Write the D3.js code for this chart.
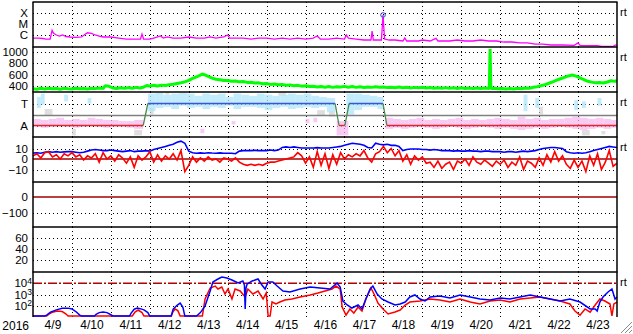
<!DOCTYPE html>
<html><head><meta charset="utf-8">
<script src="https://cdn.jsdelivr.net/npm/d3@7"></script>
<style>
html,body{margin:0;padding:0;background:#fff;overflow:hidden;}
svg{display:block;}
text{font-family:"Liberation Sans",Arial,Helvetica,sans-serif;fill:#000;}
</style></head><body>
<svg id="chart" width="633" height="334"></svg>
<script>
// ---------------- DATA ----------------
const yearLabel = "2016";
const dayLabels = ["4/9","4/10","4/11","4/12","4/13","4/14","4/15","4/16","4/17","4/18","4/19","4/20","4/21","4/22","4/23"];

// GOES X-ray flux [day since 4/9 00UT, W/m2]
const xrayTicks = [1e-4, 1e-5, 1e-6];
const xrayTickLabels = ["X", "M", "C"];
const xrayFlux = [[0,5.3e-7],[0.15,5.3e-7],[0.25,4.8e-7],[0.33,4.3e-7],[0.44,4.3e-7],[0.49,2.6e-6],[0.53,1.4e-6],[0.6,1.0e-6],[0.68,8.1e-7],[0.76,1.0e-6],[0.85,7.3e-7],[0.95,6.6e-7],[1.1,6.0e-7],[1.25,6.6e-7],[1.33,1.1e-6],[1.4,1.6e-6],[1.5,1.4e-6],[1.6,1.0e-6],[1.7,8.1e-7],[1.8,6.6e-7],[2.0,6.6e-7],[2.2,5.3e-7],[2.4,4.3e-7],[2.6,4.3e-7],[2.76,4.3e-7],[2.8,1.2e-6],[2.84,4.3e-7],[3.0,4.3e-7],[3.1,5.3e-7],[3.2,6.6e-7],[3.27,8.1e-7],[3.35,5.3e-7],[3.45,6.6e-7],[3.6,5.3e-7],[3.8,5.3e-7],[4.0,6.6e-7],[4.2,5.3e-7],[4.4,5.3e-7],[4.55,6.6e-7],[4.7,5.3e-7],[4.9,6.6e-7],[5.0,1.0e-6],[5.05,5.3e-7],[5.2,5.3e-7],[5.4,5.3e-7],[5.6,4.3e-7],[5.8,5.3e-7],[6.0,5.3e-7],[6.2,4.3e-7],[6.4,5.3e-7],[6.6,4.3e-7],[6.8,5.3e-7],[7.0,4.3e-7],[7.2,5.3e-7],[7.3,8.1e-7],[7.38,4.3e-7],[7.6,4.3e-7],[7.8,5.3e-7],[8.0,4.3e-7],[8.05,1.0e-6],[8.1,5.3e-7],[8.3,4.3e-7],[8.5,3.5e-7],[8.68,3.5e-7],[8.71,2.3e-6],[8.74,3.5e-7],[8.95,3.5e-7],[8.99,6.6e-5],[9.03,4.3e-7],[9.15,3.5e-7],[9.3,3.5e-7],[9.5,2.85e-7],[9.55,5.3e-7],[9.6,2.85e-7],[9.9,2.85e-7],[10.0,3.5e-7],[10.2,2.85e-7],[10.35,5e-7],[10.4,2.85e-7],[10.7,2.85e-7],[10.9,3.5e-7],[11.1,2.85e-7],[11.3,2.85e-7],[11.5,3.5e-7],[11.7,2.85e-7],[11.9,2.85e-7],[12.1,2.3e-7],[12.3,2.3e-7],[12.5,1.9e-7],[12.7,1.9e-7],[12.9,1.5e-7],[13.1,1.5e-7],[13.3,1.23e-7],[13.6,1.23e-7],[13.9,1.15e-7],[14.0,1.9e-7],[14.05,1.15e-7],[14.3,1.1e-7],[14.5,1.1e-7],[14.6,9e-8],[14.9,9e-8],[14.95,1.2e-7],[15,1.2e-7]];
const xrayPeak = [[8.99, 6.6e-5]];

// Solar wind speed [day, km/s]
const swTicks = [400, 600, 800, 1000];
const swSpeed = [[0,350],[0.1,340],[0.2,356],[0.3,344],[0.4,358],[0.5,346],[0.6,352],[0.7,340],[0.8,356],[0.9,348],[1.0,344],[1.1,358],[1.2,346],[1.3,354],[1.4,342],[1.5,356],[1.6,350],[1.7,362],[1.8,352],[1.85,400],[1.95,392],[2.05,362],[2.15,352],[2.25,366],[2.35,356],[2.45,368],[2.55,358],[2.65,372],[2.75,362],[2.85,378],[2.92,405],[3.0,398],[3.1,410],[3.2,396],[3.3,412],[3.4,404],[3.5,420],[3.6,428],[3.7,442],[3.8,455],[3.9,470],[4.0,495],[4.1,530],[4.2,560],[4.3,590],[4.35,610],[4.4,598],[4.5,565],[4.6,535],[4.7,515],[4.8,508],[4.9,495],[5.0,492],[5.1,480],[5.2,486],[5.3,470],[5.4,476],[5.5,460],[5.6,462],[5.7,448],[5.8,452],[5.9,436],[6.0,440],[6.1,425],[6.2,432],[6.3,418],[6.4,424],[6.5,410],[6.6,416],[6.7,402],[6.8,408],[6.9,394],[7.0,400],[7.1,386],[7.2,392],[7.3,380],[7.4,388],[7.5,376],[7.6,386],[7.7,372],[7.8,382],[7.9,378],[8.0,390],[8.1,376],[8.2,386],[8.3,372],[8.4,382],[8.5,370],[8.6,380],[8.7,372],[8.8,384],[8.9,374],[9.0,380],[9.1,368],[9.2,376],[9.3,366],[9.4,378],[9.5,366],[9.6,374],[9.7,362],[9.8,372],[9.9,364],[10.0,374],[10.1,360],[10.2,370],[10.3,358],[10.4,366],[10.5,356],[10.6,368],[10.7,356],[10.8,364],[10.9,354],[11.0,364],[11.1,352],[11.2,362],[11.3,350],[11.4,360],[11.5,352],[11.6,360],[11.72,352],[11.74,1050],[11.76,350],[11.85,358],[11.95,346],[12.05,354],[12.15,342],[12.25,352],[12.35,344],[12.45,356],[12.55,348],[12.65,362],[12.75,358],[12.85,374],[12.95,385],[13.05,400],[13.15,420],[13.25,445],[13.35,470],[13.45,500],[13.55,525],[13.65,550],[13.75,575],[13.85,590],[13.95,572],[14.05,540],[14.15,510],[14.25,480],[14.35,465],[14.45,452],[14.55,460],[14.65,450],[14.75,468],[14.85,490],[14.95,478],[15,500]];

// Solar wind type (A = 1, T = 3)
const taTicks = [3, 1];
const taTickLabels = ["T", "A"];
const taBoundary = 2;
const taType = [[0,1],[2.83,1],[2.95,3],[7.76,3],[7.86,1],[8.01,1],[8.12,3],[8.99,3],[9.09,1],[15,1]];
// scatter ranges [t0, t1, low, high]
const taLightBlue = [[0.1,0.2,2.6,3.6],[0.2,0.3,2.9,3.9],[0.8,0.9,3.2,3.8],[1.4,1.5,3.0,3.5],[2.95,3.15,2.3,3.9],[3.15,3.35,2.6,3.95],[3.35,3.55,2.7,3.8],[3.55,3.75,2.5,3.9],[3.75,3.95,2.8,3.95],[3.95,4.15,2.6,3.9],[4.15,4.35,2.7,3.7],[4.35,4.55,2.5,3.9],[4.55,4.75,2.7,3.8],[4.75,4.95,2.6,3.9],[4.95,5.15,2.8,3.6],[5.15,5.35,2.5,3.9],[5.35,5.55,2.7,3.8],[5.55,5.75,2.7,3.7],[5.75,5.95,2.6,3.9],[5.95,6.15,2.4,3.8],[6.15,6.35,2.6,3.7],[6.35,6.55,2.7,3.8],[6.55,6.75,2.5,3.9],[6.75,6.95,2.6,3.8],[6.95,7.15,2.7,3.9],[7.15,7.35,2.6,3.7],[7.35,7.55,2.7,3.6],[7.55,7.76,2.2,3.5],[8.05,8.25,2.0,3.9],[8.25,8.45,2.4,3.9],[8.45,8.65,2.7,3.8],[8.65,8.85,2.7,3.7],[8.85,9.0,2.5,3.6],[12.6,12.7,2.3,3.8],[12.9,13.0,2.6,3.5],[13.9,14.0,2.4,3.3],[14.1,14.2,2.6,3.2],[14.5,14.6,2.8,3.5]];
const taPink = [[0,0.2,0.9,1.6],[0.2,0.4,0.8,1.5],[0.4,0.6,0.9,1.6],[0.6,0.8,1.0,1.7],[0.8,1.0,0.9,1.5],[1.0,1.2,0.8,1.6],[1.2,1.4,0.9,1.5],[1.4,1.6,1.0,1.7],[1.6,1.8,0.9,1.6],[1.8,2.0,0.8,1.5],[2.0,2.2,0.9,1.5],[2.2,2.4,0.9,1.4],[2.4,2.6,0.8,1.4],[2.6,2.83,0.7,1.5],[4.3,4.4,0.3,0.7],[5.1,5.2,1.1,1.4],[7.0,7.1,1.2,1.6],[7.2,7.3,1.3,1.7],[7.8,8.1,0.1,1.4],[9.05,9.25,0.7,1.7],[9.25,9.45,0.8,1.6],[9.45,9.65,0.7,1.5],[9.65,9.85,0.8,1.6],[9.85,10.05,0.9,1.7],[10.05,10.25,0.8,1.5],[10.25,10.45,0.7,1.6],[10.45,10.65,0.8,1.5],[10.65,10.85,0.9,1.6],[10.85,11.05,0.8,1.7],[11.05,11.25,0.7,1.5],[11.25,11.45,0.8,1.6],[11.45,11.65,0.9,1.5],[11.65,11.85,0.8,1.6],[11.85,12.05,0.7,1.7],[12.05,12.25,0.8,1.6],[12.25,12.45,0.7,1.5],[12.45,12.65,0.6,1.8],[12.65,12.85,0.7,1.6],[12.85,13.05,0.8,1.7],[13.05,13.25,0.7,1.5],[13.25,13.45,0.8,1.6],[13.45,13.65,0.9,1.6],[13.65,13.85,0.8,1.7],[13.85,14.05,0.7,1.8],[14.05,14.25,0.6,1.7],[14.25,14.45,0.7,1.6],[14.45,14.65,0.8,1.7],[14.65,14.85,0.7,1.6],[14.85,15,0.8,1.5]];
const taGray = [[0.3,0.5,1.9,2.5],[1.0,1.1,0.1,0.7],[2.6,2.8,0.1,0.6],[3.0,3.1,2.0,2.6],[3.4,3.5,3.8,4.0],[6.3,6.5,3.7,4.0],[7.3,7.5,1.9,2.4],[7.6,7.75,1.8,2.3],[13.0,13.1,2.0,2.7],[14.1,14.3,0.1,0.6],[14.6,14.7,0.2,0.5]];

// IMF (nT), sampled every 0.1 day
const imfStepDays = 0.1;
const imfTicks = [10, 0, -10];
const btValues = [5.7,6,5.5,6.5,7,6.5,7,6.5,6.8,7, 7,6.5,6,6.5,7.5,8.5,9,8.5,8,8, 8.5,8,7.5,7,7.5,8,7,7.5,7.5,8, 7.5,9,10,11,12,13,14,16,17,15, 7.5,6,5.5,5.8,5.5,6,5.7,5.5,5.8,5.5, 5.5,5.5,5,7.5,8,8,8,8.2,8,8, 8,8.5,8,8.5,11,11.5,11,11.5,11,10.5, 10.5,10.5,10.5,10.8,10.5,10.5,10.5,11,11.5,12, 13,14,15,14.5,14,13,11,10.5,15,14, 13.5,14,13,13,12,8,9,9.5,9.5,9.5, 9,9,8.5,9,8.5,8,8,8,7.5,8, 7.5,7.5,8,7.5,7.5,7,7.5,7.5,7,7, 7,6.5,7,7,6.5,7,7.5,7,7.5,8, 9,10,10.5,11,11,10.5,10,7,6,5.5, 6,5.5,6,7,8,9,10,11,12,11.5, 11];
const bzValues = [3,5,1,6,7,2,4,0,5,3, 6,2,4,-1,3,1,5,-3,6,0, 3,-2,4,1,-4,2,-8,3,-1,2, 7,-3,4,-2,3,0,5,-1,8,-12, -6,2,-3,1,-2,2,-1,0,-3,1, 0,-2,1,-3,-5,-6,-5,-6,-5,-6, -4,-3,-3,-2,-1,0,1,2,6,3, -4,2,-8,7,-6,5,-9,4,-5,6, 0,4,2,5,3,8,1,-3,5,7, 12,6,10,3,8,-2,4,-5,3,-1, 2,-4,-3,-8,-2,-9,-5,-3,-10,-2, -4,0,-6,2,-3,-5,-1,-4,-7,-2, -5,-1,-8,-3,-6,2,-10,-2,-4,-8, 1,-6,4,-3,7,-2,3,-5,-9,-1, -8,-2,-12,3,-6,5,-10,-3,8,-7, -4];

// Dst / Kp-like panels
const dstTicks = [0, -100];
const p6Ticks = [20, 40, 60];

// Proton flux [day, value]
const protonTicks = [1e4, 1e3, 1e2];
const protonExp = ["4", "3", "2"];
const protonThreshold = 1e4;
const protonBlue = [[0,8],[0.3,8],[0.35,12],[0.45,22],[0.6,35],[0.75,48],[0.9,50],[1.0,42],[1.1,25],[1.2,12],[1.25,8],[1.58,8],[1.62,14],[1.7,20],[1.8,23],[1.9,20],[2.0,13],[2.05,8],[2.48,8],[2.52,18],[2.6,40],[2.68,50],[2.75,45],[2.85,35],[2.95,20],[3.0,8],[3.55,8],[3.6,40],[3.7,90],[3.78,140],[3.85,60],[3.9,8],[4.2,8],[4.3,20],[4.42,77],[4.55,1670],[4.62,10500],[4.75,19500],[4.85,29000],[4.98,24000],[5.11,16000],[5.27,8500],[5.39,13000],[5.43,5600],[5.45,42],[5.47,3000],[5.5,7000],[5.63,13000],[5.78,19500],[5.88,5600],[5.96,2500],[6.04,10500],[6.16,10500],[6.27,4600],[6.42,1670],[6.6,1360],[6.86,2500],[7.12,3800],[7.37,3100],[7.63,2500],[7.81,8500],[7.89,3800],[7.96,215],[8.07,95],[8.19,51],[8.35,95],[8.45,42],[8.55,326],[8.66,2500],[8.73,4600],[8.84,900],[8.96,326],[9.12,175],[9.3,95],[9.43,117],[9.56,175],[9.68,490],[9.81,740],[9.94,326],[10.07,215],[10.2,490],[10.45,600],[10.71,400],[10.97,740],[11.23,490],[11.48,326],[11.74,264],[12.0,400],[12.25,326],[12.51,490],[12.77,740],[13.02,490],[13.28,326],[13.54,215],[13.79,326],[14.05,175],[14.31,42],[14.44,42],[14.49,28],[14.56,175],[14.64,490],[14.77,1360],[14.87,2500],[14.95,326],[15,490]];
const protonRed = [[0,8],[0.35,8],[0.4,14],[0.5,22],[0.62,28],[0.75,25],[0.85,15],[0.9,8],[2.55,8],[2.62,22],[2.7,34],[2.8,20],[2.85,8],[3.55,8],[3.6,25],[3.65,42],[3.72,30],[3.78,8],[4.35,8],[4.42,326],[4.55,3100],[4.68,4600],[4.75,2500],[4.85,3800],[4.93,900],[5.01,2500],[5.11,326],[5.19,2500],[5.32,1670],[5.45,490],[5.52,2500],[5.65,900],[5.78,1670],[5.91,326],[5.99,1110],[6.04,8],[6.09,8],[6.14,175],[6.24,117],[6.34,175],[6.47,264],[6.65,326],[6.86,490],[7.12,740],[7.32,1110],[7.5,1670],[7.68,2500],[7.78,4600],[7.89,2500],[7.94,63],[8.04,12],[8.14,42],[8.24,18],[8.35,63],[8.45,28],[8.55,326],[8.68,3100],[8.76,900],[8.86,143],[8.99,42],[9.12,15],[9.3,23],[9.43,34],[9.56,95],[9.68,175],[9.94,215],[10.2,326],[10.45,264],[10.71,175],[10.97,326],[11.23,175],[11.48,117],[11.74,215],[12.0,264],[12.25,175],[12.51,326],[12.77,400],[13.02,490],[13.28,326],[13.54,215],[13.79,117],[13.92,28],[14.05,12],[14.18,42],[14.31,22],[14.44,95],[14.56,326],[14.69,215],[14.82,117],[14.87,8],[14.92,117],[15,175]];

// ---------------- LAYOUT ----------------
const W = 633, H = 334, L = 33, R = 617;
const tops = [2, 47, 92, 137, 182, 227, 272];
const bots = [47, 92, 137, 182, 227, 272, 317];
const nDays = dayLabels.length;

const svg = d3.select("#chart");
const x = d3.scaleLinear().domain([0, nDays]).range([L, R]);

const yX = d3.scaleLog().domain([1e-7, 1e-3]).range([46, 2]);
const ySW = d3.scaleLinear().domain([400, 1000]).range([85.8, 51.9]);
const yTA = d3.scaleLinear().domain([0, 4]).range([136.5, 92.5]);
const yB = d3.scaleLinear().domain([-20, 20]).range([180, 138]);
const yDst = d3.scaleLinear().domain([0, -100]).range([197, 212.5]);
const yP6 = d3.scaleLinear().domain([20, 60]).range([260, 238]);
const yPr = d3.scaleLog().domain([10, 1e5]).range([317, 272]).clamp(true);

const defs = svg.append("defs");
tops.forEach((t, i) => {
  defs.append("clipPath").attr("id", "clip" + i).append("rect")
    .attr("x", L).attr("y", t).attr("width", R - L).attr("height", bots[i] - t);
});

const dot = "1,3";
const gGrid = svg.append("g");
tops.forEach((t, i) => {
  gGrid.selectAll(null).data(d3.range(1, nDays)).join("line")
    .attr("x1", d => Math.round(x(d)) + 0.5).attr("x2", d => Math.round(x(d)) + 0.5)
    .attr("y1", t).attr("y2", bots[i])
    .attr("stroke", "#000").attr("stroke-width", 1).attr("stroke-dasharray", dot);
});
function hDots(scale, vals) {
  gGrid.selectAll(null).data(vals).join("line")
    .attr("x1", L).attr("x2", R)
    .attr("y1", d => Math.round(scale(d)) + 0.5).attr("y2", d => Math.round(scale(d)) + 0.5)
    .attr("stroke", "#000").attr("stroke-width", 1).attr("stroke-dasharray", dot);
}
hDots(yX, xrayTicks);
hDots(ySW, swTicks);
hDots(yTA, taTicks);
hDots(yB, imfTicks.filter(v => v !== 0));
hDots(yDst, dstTicks.filter(v => v !== 0));
hDots(yP6, p6Ticks);
hDots(yPr, protonTicks.filter(v => v !== protonThreshold));

// ---------- Panel 3 scatter & step ----------
const g3 = svg.append("g").attr("clip-path", "url(#clip2)");
function bands(data, color, op) {
  g3.selectAll(null).data(data).join("rect")
    .attr("x", d => x(d[0])).attr("width", d => x(d[1]) - x(d[0]))
    .attr("y", d => yTA(d[3])).attr("height", d => yTA(d[2]) - yTA(d[3]))
    .attr("fill", color).attr("opacity", op);
}
bands(taGray, "#d2d2d2", 0.7);
bands(taPink, "#f6b4f0", 0.7);
bands(taLightBlue, "#ade6fa", 0.75);
g3.append("line").attr("x1", L).attr("x2", R)
  .attr("y1", Math.round(yTA(taBoundary)) + 0.5).attr("y2", Math.round(yTA(taBoundary)) + 0.5)
  .attr("stroke", "#808080").attr("stroke-width", 1.5);
const segs = d3.pairs(taType);
g3.selectAll(null).data(segs).join("line")
  .attr("x1", d => x(d[0][0])).attr("x2", d => x(d[1][0]))
  .attr("y1", d => yTA(d[0][1])).attr("y2", d => yTA(d[1][1]))
  .attr("stroke", d => d[0][1] === d[1][1] ? (d[0][1] === 3 ? "#3a55d8" : "#e02828") : "#4a8a4a")
  .attr("stroke-width", 1.3);

// ---------- Panel 1 X-ray ----------
const g1 = svg.append("g").attr("clip-path", "url(#clip0)");
g1.append("path").datum(xrayFlux)
  .attr("d", d3.line().x(d => x(d[0])).y(d => yX(d[1])))
  .attr("fill", "none").attr("stroke", "#ff00ff").attr("stroke-width", 1.3);
svg.selectAll(null).data(xrayPeak).join("circle")
  .attr("cx", d => x(d[0])).attr("cy", d => yX(d[1])).attr("r", 2.3)
  .attr("fill", "none").attr("stroke", "#2850d0").attr("stroke-width", 1);

// ---------- Panel 2 SW ----------
const g2 = svg.append("g").attr("clip-path", "url(#clip1)");
g2.append("path").datum(swSpeed)
  .attr("d", d3.line().x(d => x(d[0])).y(d => ySW(d[1])))
  .attr("fill", "none").attr("stroke", "#00ff00").attr("stroke-width", 3).attr("stroke-linejoin", "bevel");

// ---------- Panel 4 IMF ----------
const g4 = svg.append("g").attr("clip-path", "url(#clip3)");
g4.append("line").attr("x1", L).attr("x2", R).attr("y1", yB(0)).attr("y2", yB(0))
  .attr("stroke", "#a00000").attr("stroke-width", 1.5);
const imfLine = d3.line().x((d, i) => x(i * imfStepDays)).y(d => yB(d));
g4.append("path").datum(btValues).attr("d", imfLine)
  .attr("fill", "none").attr("stroke", "#0000ff").attr("stroke-width", 1.6);
g4.append("path").datum(bzValues).attr("d", imfLine)
  .attr("fill", "none").attr("stroke", "#ff0000").attr("stroke-width", 1.6);

// ---------- Panel 5 Dst ----------
svg.append("line").attr("x1", L).attr("x2", R).attr("y1", yDst(0)).attr("y2", yDst(0))
  .attr("stroke", "#a00000").attr("stroke-width", 1.5);

// ---------- Panel 7 protons ----------
const g7 = svg.append("g").attr("clip-path", "url(#clip6)");
g7.append("line").attr("x1", L).attr("x2", R)
  .attr("y1", yPr(protonThreshold)).attr("y2", yPr(protonThreshold))
  .attr("stroke", "#b00000").attr("stroke-width", 1.3).attr("stroke-dasharray", "9,2,2,2");
const prLine = d3.line().x(d => x(d[0])).y(d => yPr(d[1]) - 1);
g7.append("path").datum(protonRed).attr("d", prLine)
  .attr("fill", "none").attr("stroke", "#ff0000").attr("stroke-width", 1.5);
g7.append("path").datum(protonBlue).attr("d", prLine)
  .attr("fill", "none").attr("stroke", "#0000ff").attr("stroke-width", 1.5);

// ---------- Frames ----------
const gF = svg.append("g");
tops.forEach(t => {
  gF.append("line").attr("x1", L - 0.5).attr("x2", R + 0.5).attr("y1", t).attr("y2", t)
    .attr("stroke", "#000").attr("stroke-width", 1.5);
});
gF.append("line").attr("x1", L).attr("x2", L).attr("y1", tops[0]).attr("y2", bots[6])
  .attr("stroke", "#000").attr("stroke-width", 1.5);
gF.append("line").attr("x1", R).attr("x2", R).attr("y1", tops[0]).attr("y2", bots[6])
  .attr("stroke", "#000").attr("stroke-width", 1.5);

// ---------- Axes (labels) ----------
const labelSize = 11.5;
function leftAxis(scale, vals, labels) {
  const ax = d3.axisLeft(scale).tickValues(vals).tickSize(0).tickPadding(5)
    .tickFormat((d, i) => labels ? labels[i] : d3.format("d")(d));
  const g = svg.append("g").attr("transform", `translate(${L},0)`).call(ax);
  g.select(".domain").remove();
  g.selectAll("text").attr("font-size", labelSize).attr("font-family", "Liberation Sans, Arial, sans-serif").attr("fill", "#000");
  return g;
}
leftAxis(yX, xrayTicks, xrayTickLabels);
leftAxis(ySW, swTicks);
leftAxis(yTA, taTicks, taTickLabels);
leftAxis(yB, imfTicks);
leftAxis(yDst, dstTicks);
leftAxis(yP6, p6Ticks);
const gpr = svg.append("g").attr("transform", `translate(${L},0)`)
  .call(d3.axisLeft(yPr).tickValues(protonTicks).tickSize(0).tickPadding(1).tickFormat(() => ""));
gpr.select(".domain").remove();
gpr.selectAll("g.tick text").each(function(d, i) {
  const t = d3.select(this).attr("font-size", labelSize).attr("fill", "#000");
  t.append("tspan").text("10");
  t.append("tspan").attr("font-size", 8.5).attr("dy", "-0.45em").text(protonExp[i]);
});

const gx = svg.append("g").attr("transform", `translate(0,${bots[6]})`)
  .call(d3.axisBottom(x).tickValues(d3.range(nDays).map(i => i + 0.5)).tickSize(0).tickPadding(3.5)
    .tickFormat((d, i) => dayLabels[i]));
gx.select(".domain").remove();
gx.selectAll("text").attr("font-size", 12).attr("fill", "#000");
svg.append("text").attr("x", 29).attr("y", 329.5).attr("text-anchor", "end")
  .attr("font-size", 12).text(yearLabel);

// "rt" markers
[0, 1, 2, 3, 6].forEach(i => {
  svg.append("text").attr("x", 620).attr("y", tops[i] + 13.5).attr("font-size", 11).text("rt");
});

// window resize grip
[0, 4, 8].forEach(k => {
  svg.append("line").attr("x1", 621 + k).attr("y1", 333).attr("x2", 632).attr("y2", 322 + k)
    .attr("stroke", "#8a8a8a").attr("stroke-width", 1);
});
</script>
</body></html>
